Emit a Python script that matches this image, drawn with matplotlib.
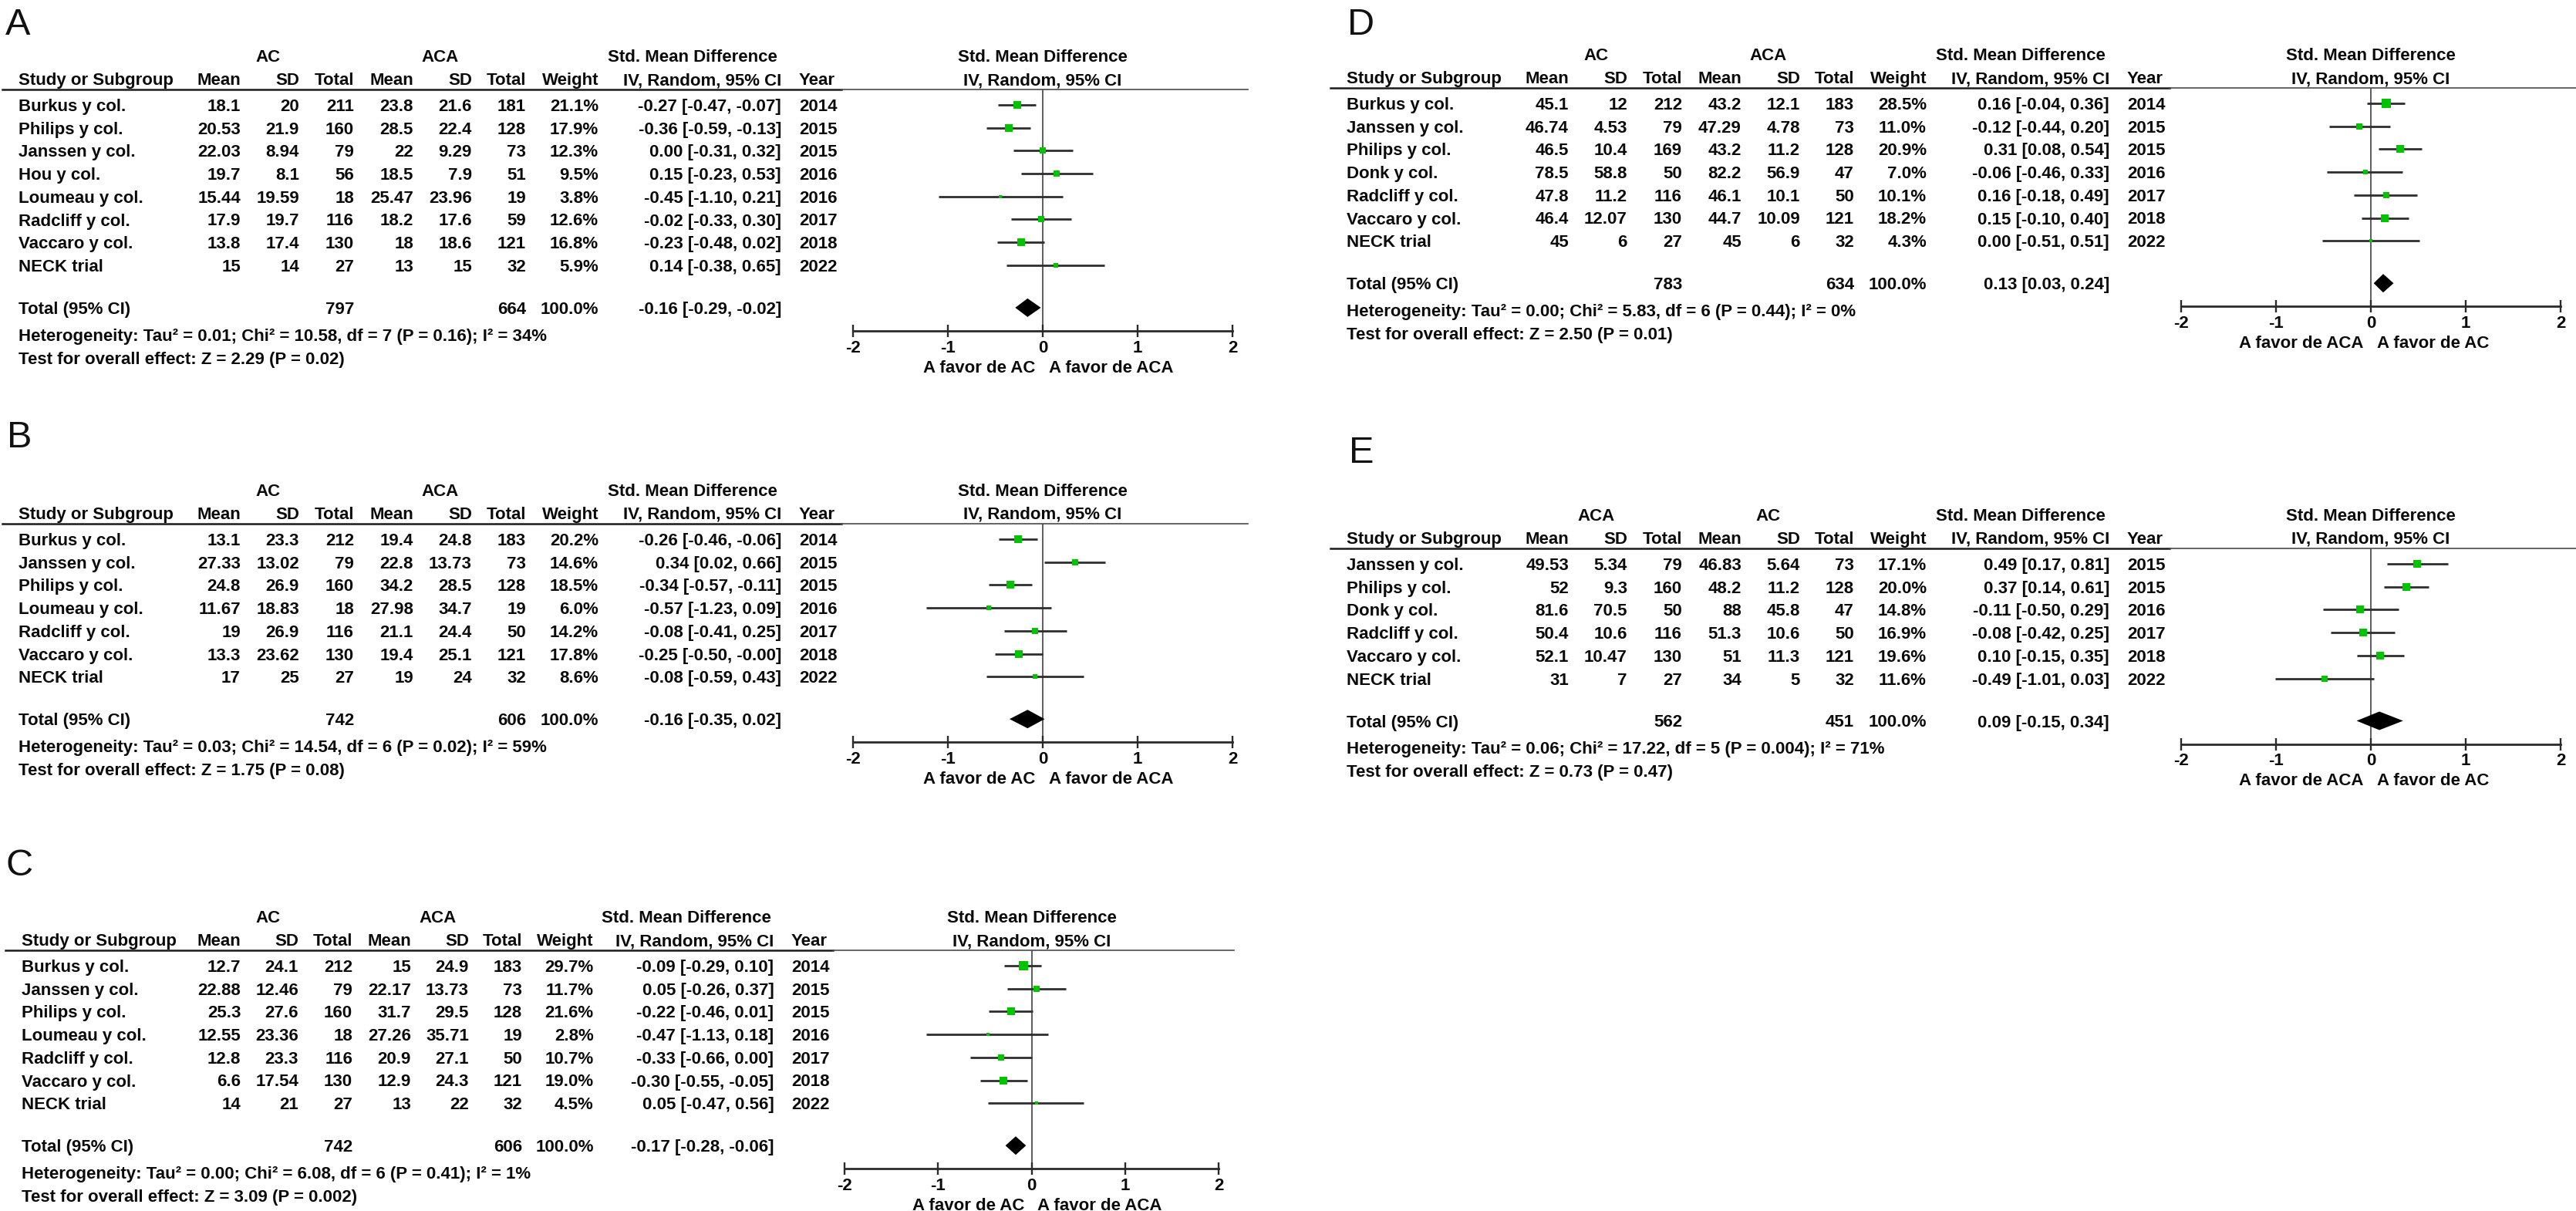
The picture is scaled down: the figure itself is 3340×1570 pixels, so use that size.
import numpy as np
import matplotlib
matplotlib.use("Agg")
import matplotlib.pyplot as plt
from matplotlib.lines import Line2D

plt.rcParams['font.family'] = ['Liberation Sans', 'DejaVu Sans']

# ------------------------------------------------------------------ data
# Panel A
A_study = ["Burkus y col.", "Philips y col.", "Janssen y col.", "Hou y col.",
           "Loumeau y col.", "Radcliff y col.", "Vaccaro y col.", "NECK trial"]
A_g1_mean = [18.1, 20.53, 22.03, 19.7, 15.44, 17.9, 13.8, 15]
A_g1_sd = [20, 21.9, 8.94, 8.1, 19.59, 19.7, 17.4, 14]
A_g1_n = [211, 160, 79, 56, 18, 116, 130, 27]
A_g2_mean = [23.8, 28.5, 22, 18.5, 25.47, 18.2, 18, 13]
A_g2_sd = [21.6, 22.4, 9.29, 7.9, 23.96, 17.6, 18.6, 15]
A_g2_n = [181, 128, 73, 51, 19, 59, 121, 32]
A_weight = [21.1, 17.9, 12.3, 9.5, 3.8, 12.6, 16.8, 5.9]
A_smd = [-0.27, -0.36, 0.00, 0.15, -0.45, -0.02, -0.23, 0.14]
A_lo = [-0.47, -0.59, -0.31, -0.23, -1.10, -0.33, -0.48, -0.38]
A_hi = [-0.07, -0.13, 0.32, 0.53, 0.21, 0.30, 0.02, 0.65]
A_year = [2014, 2015, 2015, 2016, 2016, 2017, 2018, 2022]
A_total_n = [797, 664]
A_total_weight = 100.0
A_total_est = [-0.16, -0.29, -0.02]
A_groups = ["AC", "ACA"]
A_favours = ["A favor de AC", "A favor de ACA"]
A_het = "Heterogeneity: Tau² = 0.01; Chi² = 10.58, df = 7 (P = 0.16); I² = 34%"
A_test = "Test for overall effect: Z = 2.29 (P = 0.02)"

# Panel B
B_study = ["Burkus y col.", "Janssen y col.", "Philips y col.", "Loumeau y col.",
           "Radcliff y col.", "Vaccaro y col.", "NECK trial"]
B_g1_mean = [13.1, 27.33, 24.8, 11.67, 19, 13.3, 17]
B_g1_sd = [23.3, 13.02, 26.9, 18.83, 26.9, 23.62, 25]
B_g1_n = [212, 79, 160, 18, 116, 130, 27]
B_g2_mean = [19.4, 22.8, 34.2, 27.98, 21.1, 19.4, 19]
B_g2_sd = [24.8, 13.73, 28.5, 34.7, 24.4, 25.1, 24]
B_g2_n = [183, 73, 128, 19, 50, 121, 32]
B_weight = [20.2, 14.6, 18.5, 6.0, 14.2, 17.8, 8.6]
B_smd = [-0.26, 0.34, -0.34, -0.57, -0.08, -0.25, -0.08]
B_lo = [-0.46, 0.02, -0.57, -1.23, -0.41, -0.50, -0.59]
B_hi = [-0.06, 0.66, -0.11, 0.09, 0.25, -0.001, 0.43]
B_year = [2014, 2015, 2015, 2016, 2017, 2018, 2022]
B_total_n = [742, 606]
B_total_weight = 100.0
B_total_est = [-0.16, -0.35, 0.02]
B_groups = ["AC", "ACA"]
B_favours = ["A favor de AC", "A favor de ACA"]
B_het = "Heterogeneity: Tau² = 0.03; Chi² = 14.54, df = 6 (P = 0.02); I² = 59%"
B_test = "Test for overall effect: Z = 1.75 (P = 0.08)"

# Panel C
C_study = ["Burkus y col.", "Janssen y col.", "Philips y col.", "Loumeau y col.",
           "Radcliff y col.", "Vaccaro y col.", "NECK trial"]
C_g1_mean = [12.7, 22.88, 25.3, 12.55, 12.8, 6.6, 14]
C_g1_sd = [24.1, 12.46, 27.6, 23.36, 23.3, 17.54, 21]
C_g1_n = [212, 79, 160, 18, 116, 130, 27]
C_g2_mean = [15, 22.17, 31.7, 27.26, 20.9, 12.9, 13]
C_g2_sd = [24.9, 13.73, 29.5, 35.71, 27.1, 24.3, 22]
C_g2_n = [183, 73, 128, 19, 50, 121, 32]
C_weight = [29.7, 11.7, 21.6, 2.8, 10.7, 19.0, 4.5]
C_smd = [-0.09, 0.05, -0.22, -0.47, -0.33, -0.30, 0.05]
C_lo = [-0.29, -0.26, -0.46, -1.13, -0.66, -0.55, -0.47]
C_hi = [0.10, 0.37, 0.01, 0.18, 0.00, -0.05, 0.56]
C_year = [2014, 2015, 2015, 2016, 2017, 2018, 2022]
C_total_n = [742, 606]
C_total_weight = 100.0
C_total_est = [-0.17, -0.28, -0.06]
C_groups = ["AC", "ACA"]
C_favours = ["A favor de AC", "A favor de ACA"]
C_het = "Heterogeneity: Tau² = 0.00; Chi² = 6.08, df = 6 (P = 0.41); I² = 1%"
C_test = "Test for overall effect: Z = 3.09 (P = 0.002)"

# Panel D
D_study = ["Burkus y col.", "Janssen y col.", "Philips y col.", "Donk y col.",
           "Radcliff y col.", "Vaccaro y col.", "NECK trial"]
D_g1_mean = [45.1, 46.74, 46.5, 78.5, 47.8, 46.4, 45]
D_g1_sd = [12, 4.53, 10.4, 58.8, 11.2, 12.07, 6]
D_g1_n = [212, 79, 169, 50, 116, 130, 27]
D_g2_mean = [43.2, 47.29, 43.2, 82.2, 46.1, 44.7, 45]
D_g2_sd = [12.1, 4.78, 11.2, 56.9, 10.1, 10.09, 6]
D_g2_n = [183, 73, 128, 47, 50, 121, 32]
D_weight = [28.5, 11.0, 20.9, 7.0, 10.1, 18.2, 4.3]
D_smd = [0.16, -0.12, 0.31, -0.06, 0.16, 0.15, 0.00]
D_lo = [-0.04, -0.44, 0.08, -0.46, -0.18, -0.10, -0.51]
D_hi = [0.36, 0.20, 0.54, 0.33, 0.49, 0.40, 0.51]
D_year = [2014, 2015, 2015, 2016, 2017, 2018, 2022]
D_total_n = [783, 634]
D_total_weight = 100.0
D_total_est = [0.13, 0.03, 0.24]
D_groups = ["AC", "ACA"]
D_favours = ["A favor de ACA", "A favor de AC"]
D_het = "Heterogeneity: Tau² = 0.00; Chi² = 5.83, df = 6 (P = 0.44); I² = 0%"
D_test = "Test for overall effect: Z = 2.50 (P = 0.01)"

# Panel E
E_study = ["Janssen y col.", "Philips y col.", "Donk y col.", "Radcliff y col.",
           "Vaccaro y col.", "NECK trial"]
E_g1_mean = [49.53, 52, 81.6, 50.4, 52.1, 31]
E_g1_sd = [5.34, 9.3, 70.5, 10.6, 10.47, 7]
E_g1_n = [79, 160, 50, 116, 130, 27]
E_g2_mean = [46.83, 48.2, 88, 51.3, 51, 34]
E_g2_sd = [5.64, 11.2, 45.8, 10.6, 11.3, 5]
E_g2_n = [73, 128, 47, 50, 121, 32]
E_weight = [17.1, 20.0, 14.8, 16.9, 19.6, 11.6]
E_smd = [0.49, 0.37, -0.11, -0.08, 0.10, -0.49]
E_lo = [0.17, 0.14, -0.50, -0.42, -0.15, -1.01]
E_hi = [0.81, 0.61, 0.29, 0.25, 0.35, 0.03]
E_year = [2015, 2015, 2016, 2017, 2018, 2022]
E_total_n = [562, 451]
E_total_weight = 100.0
E_total_est = [0.09, -0.15, 0.34]
E_groups = ["ACA", "AC"]
E_favours = ["A favor de ACA", "A favor de AC"]
E_het = "Heterogeneity: Tau² = 0.06; Chi² = 17.22, df = 5 (P = 0.004); I² = 71%"
E_test = "Test for overall effect: Z = 0.73 (P = 0.47)"

xticks = [-2, -1, 0, 1, 2]
xtick_labels = ["-2", "-1", "0", "1", "2"]

# ------------------------------------------------------------------ layout
W, H = 3341, 1570
fig = plt.figure(figsize=(W / 100, H / 100), dpi=100)
fig.patch.set_facecolor("white")

FS = 16
TXTC = "#0a0a0a"
GREEN = "#00c400"

# column anchors (pixels, relative to panel A)
C_STUDY, C_M1, C_S1, C_N1 = 24, 312, 388, 459
C_M2, C_S2, C_N2, C_W = 536, 612, 682, 776
C_CI, C_YEAR, C_G1, C_G2, C_HDR = 1013, 1036, 348, 571, 898
ZERO, UNIT = 1352, 123
LINE_L, LINE_MID = 3, 1091
ROW_H = 29.7


def fx(x):
    return x / W


def fy(y):
    return 1 - y / H


def put(x, y, s, ha="left", **kw):
    d = dict(fontsize=FS, fontweight="bold", color=TXTC)
    d.update(kw)
    fig.text(fx(x), fy(y + 8), s, ha=ha, va="baseline", **d)


def num(v):
    return f"{v:g}"


def ci(e, l, h):
    return f"{e:.2f} [{l:.2f}, {h:.2f}]"


panels = [
    dict(key="A", dx=0, sx=1.0, row2=102, lab=(7, 45),
         study=A_study, m1=A_g1_mean, s1=A_g1_sd, n1=A_g1_n, m2=A_g2_mean, s2=A_g2_sd, n2=A_g2_n,
         w=A_weight, smd=A_smd, lo=A_lo, hi=A_hi, year=A_year, tn=A_total_n, tw=A_total_weight,
         te=A_total_est, groups=A_groups, fav=A_favours, het=A_het, test=A_test),
    dict(key="B", dx=0, sx=1.0, row2=665, lab=(9, 580),
         study=B_study, m1=B_g1_mean, s1=B_g1_sd, n1=B_g1_n, m2=B_g2_mean, s2=B_g2_sd, n2=B_g2_n,
         w=B_weight, smd=B_smd, lo=B_lo, hi=B_hi, year=B_year, tn=B_total_n, tw=B_total_weight,
         te=B_total_est, groups=B_groups, fav=B_favours, het=B_het, test=B_test),
    dict(key="C", dx=4.5, sx=0.986, row2=1218, lab=(7, 1135),
         study=C_study, m1=C_g1_mean, s1=C_g1_sd, n1=C_g1_n, m2=C_g2_mean, s2=C_g2_sd, n2=C_g2_n,
         w=C_weight, smd=C_smd, lo=C_lo, hi=C_hi, year=C_year, tn=C_total_n, tw=C_total_weight,
         te=C_total_est, groups=C_groups, fav=C_favours, het=C_het, test=C_test),
    dict(key="D", dx=1722, sx=1.0, row2=100, lab=(1747, 45),
         study=D_study, m1=D_g1_mean, s1=D_g1_sd, n1=D_g1_n, m2=D_g2_mean, s2=D_g2_sd, n2=D_g2_n,
         w=D_weight, smd=D_smd, lo=D_lo, hi=D_hi, year=D_year, tn=D_total_n, tw=D_total_weight,
         te=D_total_est, groups=D_groups, fav=D_favours, het=D_het, test=D_test),
    dict(key="E", dx=1722, sx=1.0, row2=697, lab=(1749, 600),
         study=E_study, m1=E_g1_mean, s1=E_g1_sd, n1=E_g1_n, m2=E_g2_mean, s2=E_g2_sd, n2=E_g2_n,
         w=E_weight, smd=E_smd, lo=E_lo, hi=E_hi, year=E_year, tn=E_total_n, tw=E_total_weight,
         te=E_total_est, groups=E_groups, fav=E_favours, het=E_het, test=E_test),
]

for p in panels:
    X = (lambda dx, sx: (lambda x: dx + sx * x))(p["dx"], p["sx"])
    n = len(p["study"])
    r2 = p["row2"]
    r1 = r2 - 30
    line_y = r2 + 14
    rows = [r2 + 34 + i * ROW_H for i in range(n)]
    tot_y = rows[-1] + 55
    het_y = tot_y + 35
    test_y = het_y + 30
    axis_y = tot_y + 30

    # panel letter
    fig.text(fx(p["lab"][0]), fy(p["lab"][1]), p["key"], fontsize=35,
             fontweight="normal", color="#111111", ha="left", va="baseline")

    # headers
    put(X(C_G1), r1, p["groups"][0], ha="center")
    put(X(C_G2), r1, p["groups"][1], ha="center")
    put(X(C_HDR), r1, "Std. Mean Difference", ha="center")
    put(X(ZERO), r1, "Std. Mean Difference", ha="center")
    put(X(C_STUDY), r2, "Study or Subgroup")
    for c, s in [(C_M1, "Mean"), (C_S1, "SD"), (C_N1, "Total"), (C_M2, "Mean"),
                 (C_S2, "SD"), (C_N2, "Total"), (C_W, "Weight"), (C_CI, "IV, Random, 95% CI")]:
        put(X(c), r2, s, ha="right")
    put(X(C_YEAR), r2, "Year")
    put(X(ZERO), r2, "IV, Random, 95% CI", ha="center")

    # header rule
    fig.add_artist(Line2D([fx(X(LINE_L)), fx(X(LINE_MID))], [fy(line_y), fy(line_y)],
                          color="#1a1a1a", lw=1.8))
    fig.add_artist(Line2D([fx(X(LINE_MID)), fx(X(ZERO + 2 * UNIT + 20))], [fy(line_y), fy(line_y)],
                          color="#4a4a4a", lw=1.2))

    # table rows
    for i in range(n):
        y = rows[i]
        put(X(C_STUDY), y, p["study"][i])
        put(X(C_M1), y, num(p["m1"][i]), ha="right")
        put(X(C_S1), y, num(p["s1"][i]), ha="right")
        put(X(C_N1), y, num(p["n1"][i]), ha="right")
        put(X(C_M2), y, num(p["m2"][i]), ha="right")
        put(X(C_S2), y, num(p["s2"][i]), ha="right")
        put(X(C_N2), y, num(p["n2"][i]), ha="right")
        put(X(C_W), y, f"{p['w'][i]:.1f}%", ha="right")
        put(X(C_CI), y, ci(p["smd"][i], p["lo"][i], p["hi"][i]), ha="right")
        put(X(C_YEAR), y, str(p["year"][i]))

    put(X(C_STUDY), tot_y, "Total (95% CI)")
    put(X(C_N1), tot_y, num(p["tn"][0]), ha="right")
    put(X(C_N2), tot_y, num(p["tn"][1]), ha="right")
    put(X(C_W), tot_y, f"{p['tw']:.1f}%", ha="right")
    put(X(C_CI), tot_y, ci(*p["te"]), ha="right")
    put(X(C_STUDY), het_y, p["het"])
    put(X(C_STUDY), test_y, p["test"])

    # forest plot axes: x in SMD units, y in pixel rows
    xl, xr = X(ZERO - 2 * UNIT), X(ZERO + 2 * UNIT)
    ax = fig.add_axes([fx(xl), fy(axis_y), fx(xr) - fx(xl), (axis_y - line_y) / H])
    ax.set_xlim(-2, 2)
    ax.set_ylim(axis_y, line_y)
    ax.patch.set_alpha(0)
    for s in ["top", "left", "right"]:
        ax.spines[s].set_visible(False)
    ax.spines["bottom"].set_color("#2a2a2a")
    ax.spines["bottom"].set_linewidth(2.0)
    ax.set_yticks([])
    ax.set_xticks(xticks, xtick_labels)
    ax.tick_params(axis="x", direction="inout", length=11, width=1.7, color="#2a2a2a",
                   pad=3, labelsize=FS, labelcolor=TXTC)
    for lab in ax.get_xticklabels():
        lab.set_fontweight("bold")

    ax.axvline(0, color="#505050", lw=1.3, zorder=1)
    ax.hlines(rows, p["lo"], p["hi"], color="#2e2e2e", lw=2.0, zorder=2)
    for e, y, wt in zip(p["smd"], rows, p["w"]):
        side_pt = 2.35 * np.sqrt(wt) * 0.72
        ax.plot([e], [y], marker="s", ms=side_pt, color=GREEN, mew=0, zorder=3,
                linestyle="none")
    te, tl, th = p["te"]
    ax.fill([tl, te, th, te], [tot_y, tot_y - 12, tot_y, tot_y + 12], color="black",
            lw=0, zorder=3)

    ax.text(-0.075, axis_y + 54, p["fav"][0], ha="right", va="baseline",
            fontsize=FS, fontweight="bold", color=TXTC)
    ax.text(0.065, axis_y + 54, p["fav"][1], ha="left", va="baseline",
            fontsize=FS, fontweight="bold", color=TXTC)

fig.savefig("out.png", dpi=100, facecolor="white")
